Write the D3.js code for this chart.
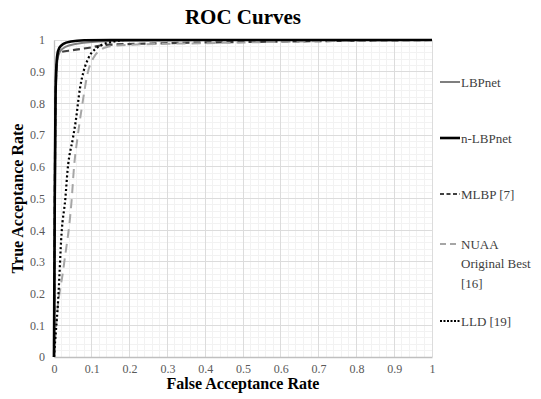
<!DOCTYPE html>
<html><head><meta charset="utf-8">
<script src="https://cdn.jsdelivr.net/npm/d3@7"></script>
<style>body{margin:0;background:#fff}svg{display:block}text{font-family:"Liberation Serif","Times New Roman",serif}</style>
</head><body>
<script>
const xTicks = [0,0.1,0.2,0.3,0.4,0.5,0.6,0.7,0.8,0.9,1];
const yTicks = [0,0.1,0.2,0.3,0.4,0.5,0.6,0.7,0.8,0.9,1];
const tickLabels = ["0","0.1","0.2","0.3","0.4","0.5","0.6","0.7","0.8","0.9","1"];
const seriesNames = ["LBPnet","n-LBPnet","MLBP [7]","NUAA Original Best [16]","LLD [19]"];
const lbpnet = [[0,0],[0.002,0.4],[0.004,0.75],[0.006,0.88],[0.009,0.935],[0.015,0.962],[0.03,0.978],[0.06,0.988],[0.1,0.994],[0.2,0.998],[0.4,1],[1,1]];
const nlbpnet = [[0,0],[0.002,0.5],[0.004,0.82],[0.006,0.91],[0.009,0.955],[0.014,0.975],[0.025,0.988],[0.045,0.995],[0.08,0.999],[0.15,1],[1,1]];
const mlbp = [[0,0],[0.002,0.5],[0.004,0.8],[0.006,0.9],[0.009,0.945],[0.013,0.96],[0.05,0.968],[0.1,0.977],[0.13,0.984],[0.3,0.99],[0.6,0.995],[0.9,0.999],[1,1]];
const nuaa = [[0,0],[0.007,0.12],[0.025,0.28],[0.047,0.5],[0.053,0.6],[0.062,0.69],[0.074,0.79],[0.09,0.9],[0.105,0.945],[0.12,0.966],[0.14,0.978],[0.2,0.985],[0.4,0.99],[0.7,0.996],[1,1]];
const lld = [[0,0],[0.003,0.05],[0.011,0.18],[0.02,0.39],[0.03,0.5],[0.036,0.59],[0.05,0.69],[0.057,0.74],[0.069,0.85],[0.078,0.9],[0.09,0.94],[0.113,0.975],[0.157,0.995],[0.19,1],[1,1]];

const W=541,H=399;
const svg=d3.select("body").append("svg").attr("width",W).attr("height",H);
const x=d3.scaleLinear().domain([0,1]).range([54,432]);
const y=d3.scaleLinear().domain([0,1]).range([357,40]);
const serif='"Liberation Serif","Times New Roman",serif';

const minor=d3.range(0,1.0001,0.02).map(v=>+v.toFixed(2));
const g=svg.append("g");
g.selectAll(".mx").data(minor).enter().append("line")
 .attr("x1",d=>x(d)).attr("x2",d=>x(d)).attr("y1",y(0)).attr("y2",y(1))
 .attr("stroke","#f2f2f2").attr("stroke-width",1).attr("shape-rendering","crispEdges");
g.selectAll(".my").data(minor).enter().append("line")
 .attr("y1",d=>y(d)).attr("y2",d=>y(d)).attr("x1",x(0)).attr("x2",x(1))
 .attr("stroke","#f2f2f2").attr("stroke-width",1).attr("shape-rendering","crispEdges");
g.selectAll(".Mx").data(xTicks).enter().append("line")
 .attr("x1",d=>x(d)).attr("x2",d=>x(d)).attr("y1",y(0)).attr("y2",y(1))
 .attr("stroke","#dcdcdc").attr("stroke-width",1).attr("shape-rendering","crispEdges");
g.selectAll(".My").data(yTicks).enter().append("line")
 .attr("y1",d=>y(d)).attr("y2",d=>y(d)).attr("x1",x(0)).attr("x2",x(1))
 .attr("stroke","#dcdcdc").attr("stroke-width",1).attr("shape-rendering","crispEdges");

const xAxis=d3.axisBottom(x).tickValues(xTicks).tickFormat((d,i)=>tickLabels[i]).tickSize(0).tickPadding(7);
const yAxis=d3.axisLeft(y).tickValues(yTicks).tickFormat((d,i)=>tickLabels[i]).tickSize(0).tickPadding(9);
const gx=svg.append("g").attr("transform",`translate(0,${y(0)})`).call(xAxis);
const gy=svg.append("g").attr("transform",`translate(${x(0)},0)`).call(yAxis);
[gx,gy].forEach(a=>{
 a.attr("font-family",null).attr("font-size",null);
 a.select(".domain").attr("stroke","#bfbfbf").attr("stroke-width",1.3);
 a.selectAll("text").style("font-family",serif).style("font-size","12px").attr("fill","#595959");
});

const line=d3.line().x(d=>x(d[0])).y(d=>y(d[1])).curve(d3.curveMonotoneX);
const styles=[
 {data:lbpnet,color:"#7f7f7f",w:2,dash:null},
 {data:mlbp,color:"#404040",w:2.2,dash:"7,4"},
 {data:nuaa,color:"#a6a6a6",w:2,dash:"9,6"},
 {data:lld,color:"#000000",w:2.2,dash:"2,2.5"},
 {data:nlbpnet,color:"#000000",w:2.6,dash:null}
];
const plot=svg.append("g");
styles.forEach(s=>{
 plot.append("path").datum(s.data).attr("d",line).attr("fill","none")
  .attr("stroke",s.color).attr("stroke-width",s.w)
  .attr("stroke-dasharray",s.dash).attr("stroke-linejoin","round");
});

const legend=[
 {lines:["LBPnet"],y:82,color:"#7f7f7f",w:2,dash:null},
 {lines:["n-LBPnet"],y:138,color:"#000000",w:2.6,dash:null},
 {lines:["MLBP [7]"],y:194,color:"#404040",w:2.2,dash:"4,2.5"},
 {lines:["NUAA","Original Best","[16]"],y:244,color:"#a6a6a6",w:2,dash:"6,4"},
 {lines:["LLD [19]"],y:321,color:"#000000",w:2,dash:"2,1.5"}
];
const lg=svg.append("g");
legend.forEach(l=>{
 lg.append("line").attr("x1",440).attr("x2",460).attr("y1",l.y).attr("y2",l.y)
  .attr("stroke",l.color).attr("stroke-width",l.w).attr("stroke-dasharray",l.dash);
 const t=lg.append("text").attr("x",461).attr("y",l.y)
  .style("font-family",serif).style("font-size","13px").attr("fill","#404040");
 l.lines.forEach((s,i)=>t.append("tspan").attr("x",461).attr("dy",i==0?"0.35em":"1.5em").text(s));
});

svg.append("text").attr("x",243).attr("y",24).attr("text-anchor","middle")
 .style("font-family",serif).attr("font-weight","bold").style("font-size","21px").attr("fill","#000").text("ROC Curves");
svg.append("text").attr("x",243).attr("y",389).attr("text-anchor","middle")
 .style("font-family",serif).attr("font-weight","bold").style("font-size","16px").attr("fill","#000").text("False Acceptance Rate");
svg.append("text").attr("transform",`translate(23,${(y(0)+y(1))/2}) rotate(-90)`).attr("text-anchor","middle")
 .style("font-family",serif).attr("font-weight","bold").style("font-size","16px").attr("fill","#000").text("True Acceptance Rate");
</script>
</body></html>
